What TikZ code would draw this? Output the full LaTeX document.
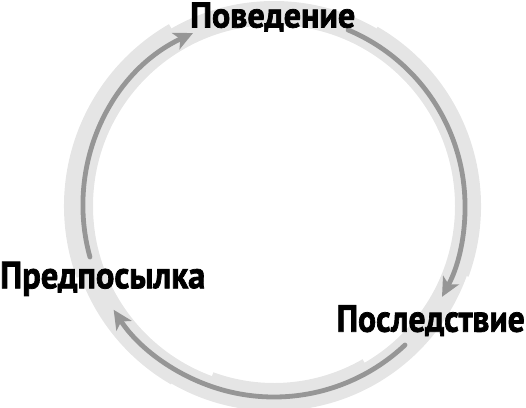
\documentclass[tikz,border=0pt]{standalone}
\usepackage{fontspec}
\usepackage{graphicx}
\newfontfamily\lblfont{PT Sans}[FakeBold=2]
\usetikzlibrary{arrows.meta}
\definecolor{arrowgray}{RGB}{150,150,150}
\definecolor{bandgray}{RGB}{229,229,229}
\newcommand{\lbltext}[3]{\resizebox{#1}{#2}{\lblfont\bfseries #3}}
\tikzset{
  cyclearrow/.style={draw=arrowgray, line width=4.8pt, line cap=round,
    -{Stealth[length=19pt,width=18pt,inset=5pt]}},
  band/.style={draw=bandgray, line width=#1},
  label/.style={inner sep=0pt, anchor=base west, text=black},
}
\begin{document}
\begin{tikzpicture}[x=1pt,y=1pt]
\useasboundingbox (0,0) rectangle (526,-407);
\coordinate (c) at (274,-206);
% brush band
\draw[band=24pt] ([shift={(0:193)}]c) arc[start angle=0, end angle=360, radius=193];
\draw[band=14pt] ([shift={(200:203)}]c) arc[start angle=200, end angle=120, radius=203];
\draw[band=14pt] ([shift={(60:200)}]c) arc[start angle=60, end angle=-20, radius=200];
\draw[band=18pt] ([shift={(-60:186)}]c) arc[start angle=-60, end angle=-110, radius=186];
\draw[band=12pt] ([shift={(-120:200)}]c) arc[start angle=-120, end angle=-160, radius=200];
% arrow start points
\coordinate (sa) at ([shift={(195.5:191)}]c);
\coordinate (sb) at ([shift={(67.2:191)}]c);
\coordinate (sc) at ([shift={(-46.7:191)}]c);
\draw[cyclearrow] (sa) arc[start angle=195.5, end angle=115.1, radius=191];
\draw[cyclearrow] (sb) arc[start angle=67.2, end angle=-28.4, radius=191];
\draw[cyclearrow] (sc) arc[start angle=-46.7, end angle=-147.1, radius=191];
% labels
\node[label] (beh) at (190,-27.5) {\lbltext{165pt}{25pt}{Поведение}};
\node[label] (con) at (336.5,-331.7) {\lbltext{188pt}{26.5pt}{Последствие}};
\node[label] (ant) at (0,-288.3) {\lbltext{205pt}{26.5pt}{Предпосылка}};
\end{tikzpicture}
\end{document}
